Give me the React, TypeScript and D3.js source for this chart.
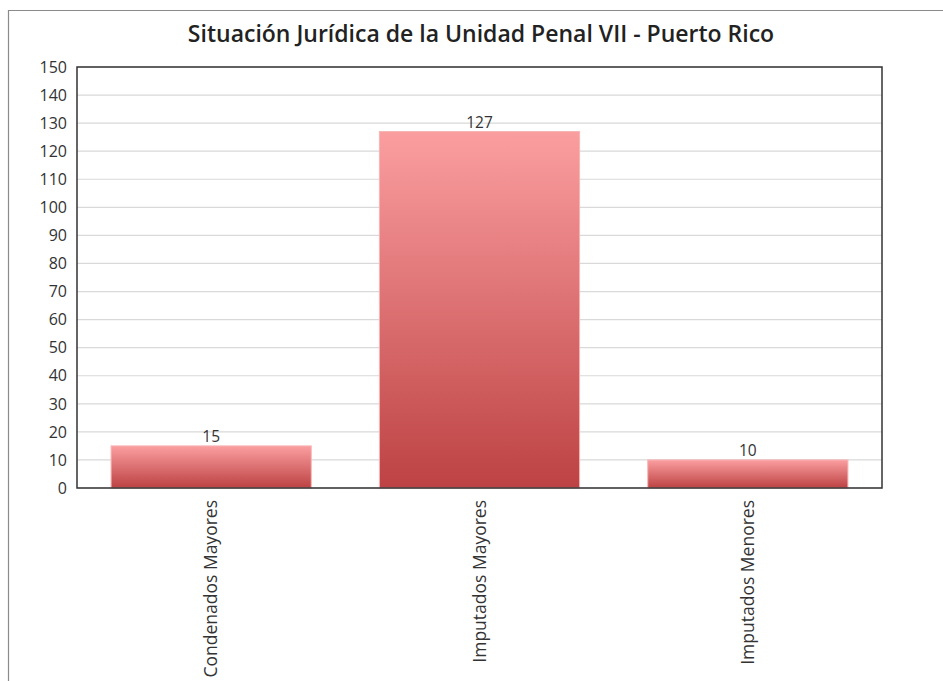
import React from "react";
import * as d3 from "d3";

const categories = ["Condenados Mayores", "Imputados Mayores", "Imputados Menores"];
const values = [15, 127, 10];
const yTicks = [0, 10, 20, 30, 40, 50, 60, 70, 80, 90, 100, 110, 120, 130, 140, 150];
const title = "Situación Jurídica de la Unidad Penal VII - Puerto Rico";

const W = 943;
const H = 681;
const m = { left: 77, top: 67, right: 882, bottom: 488 };
const FONT = "'Open Sans', 'Noto Sans', sans-serif";

export default function App() {
  const x = d3.scaleBand<string>().domain(categories).range([m.left, m.right]).paddingInner(0.254).paddingOuter(0.127);
  const y = d3.scaleLinear().domain([0, 150]).range([m.bottom, m.top]);

  return (
    <svg width={W} height={H} style={{ position: "absolute", left: 0, top: 0, background: "#fff" }} fontFamily={FONT}>
      <defs>
        <linearGradient id="barGrad" x1="0" y1="0" x2="0" y2="1">
          <stop offset="0%" stopColor="#fb9ea0" />
          <stop offset="100%" stopColor="#bd4243" />
        </linearGradient>
      </defs>
      {/* outer border */}
      <path d={`M8.5,${H} L8.5,10.5 L${W},10.5`} fill="none" stroke="#8a8a8a" strokeWidth={1.2} />
      <text x={481} y={42} textAnchor="middle" fontSize={23} fontWeight={600} fill="#222">{title}</text>
      {/* grid */}
      {yTicks.map((t) => (
        <line key={t} x1={m.left} x2={m.right} y1={y(t)} y2={y(t)} stroke="#d9d9d9" strokeWidth={1.2} />
      ))}
      {/* y tick labels */}
      {yTicks.map((t) => (
        <text key={"l" + t} x={67} y={y(t)} dy="0.36em" textAnchor="end" fontSize={16} fill="#333">{t}</text>
      ))}
      {/* bars */}
      {categories.map((c, i) => (
        <g key={c}>
          <rect
            x={x(c)}
            y={y(values[i])}
            width={x.bandwidth()}
            height={y(0) - y(values[i])}
            fill="url(#barGrad)"
            stroke="#f7b5b5"
            strokeWidth={1}
            style={{ fill: "url(#barGrad)" }}
          />
          <text x={x(c)! + x.bandwidth() / 2} y={y(values[i]) - 4} textAnchor="middle" fontSize={15.5} fill="#333">{values[i]}</text>
          <text
            transform={`translate(${x(c)! + x.bandwidth() / 2 + 6},${m.bottom + 12}) rotate(-90)`}
            textAnchor="end"
            fontSize={17.5}
            fill="#333"
          >{c}</text>
        </g>
      ))}
      {/* frame */}
      <rect x={m.left} y={m.top} width={m.right - m.left} height={m.bottom - m.top} fill="none" stroke="#333" strokeWidth={1.5} />
    </svg>
  );
}
